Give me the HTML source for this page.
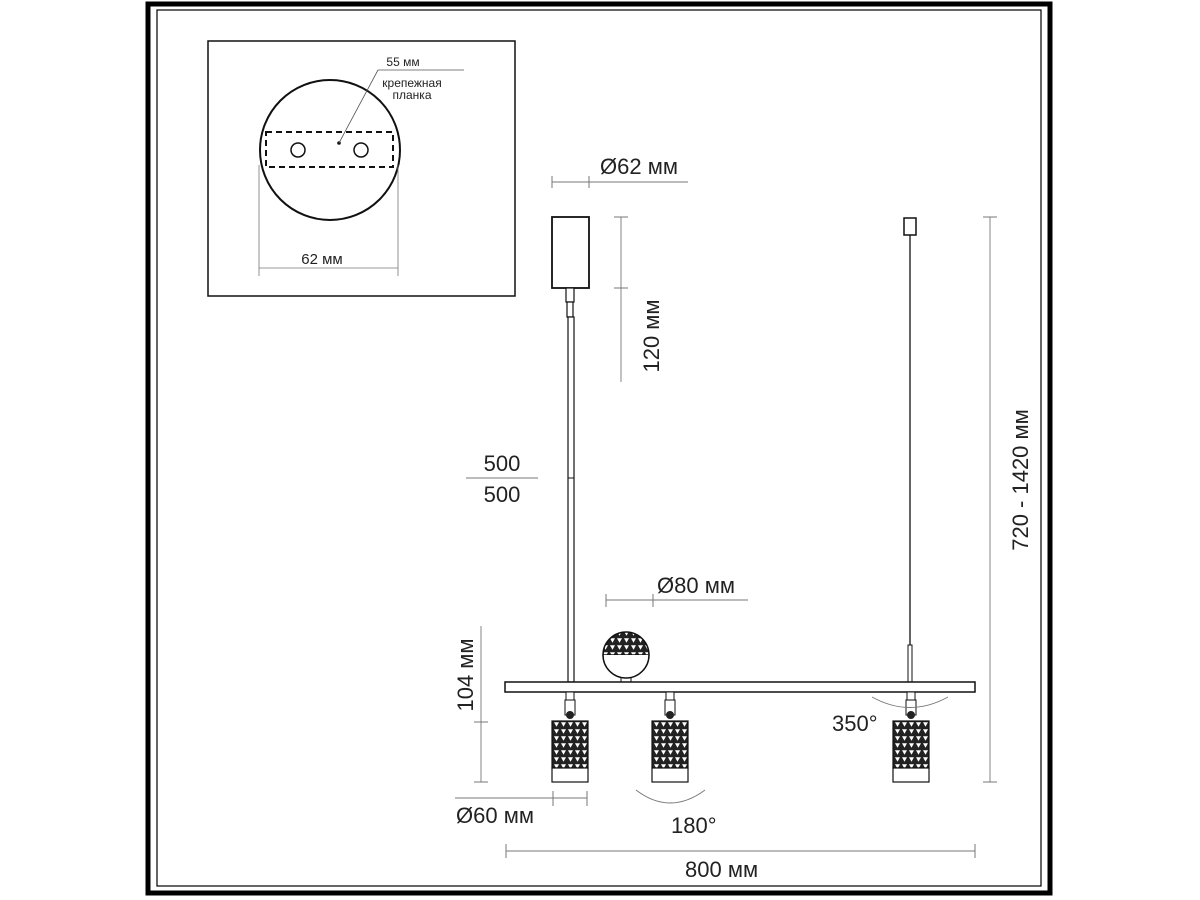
<!DOCTYPE html>
<html><head><meta charset="utf-8"><style>
html,body{margin:0;padding:0;background:#fff}
svg{display:block}
text{font-family:"Liberation Sans","DejaVu Sans",sans-serif;fill:#222}
</style></head><body>
<svg width="1200" height="900" viewBox="0 0 1200 900" xmlns="http://www.w3.org/2000/svg">
<defs>
<pattern id="tri" width="7" height="7" patternUnits="userSpaceOnUse">
<rect width="7" height="7" fill="#222"/>
<polygon points="1,1.2 6,1.2 3.5,5.8" fill="#fff"/>
</pattern>
</defs>
<rect x="148" y="4" width="902" height="889" fill="none" stroke="#000" stroke-width="5"/>
<rect x="157" y="10" width="884" height="876" fill="none" stroke="#000" stroke-width="1.2"/>
<rect x="208" y="41" width="307" height="255" fill="none" stroke="#111" stroke-width="1.5"/>
<circle cx="330" cy="150" r="70" fill="none" stroke="#111" stroke-width="2"/>
<rect x="266" y="132" width="127" height="35" fill="none" stroke="#111" stroke-width="2" stroke-dasharray="6,4"/>
<circle cx="298" cy="150" r="7" fill="none" stroke="#111" stroke-width="1.5"/>
<circle cx="361" cy="150" r="7" fill="none" stroke="#111" stroke-width="1.5"/>
<circle cx="339" cy="143" r="1.8" fill="#111"/>
<line x1="339" y1="143" x2="378" y2="70" stroke="#555" stroke-width="0.8"/>
<line x1="378" y1="70" x2="464" y2="70" stroke="#555" stroke-width="0.8"/>
<text x="403" y="66" font-size="12" text-anchor="middle">55 мм</text>
<text x="412" y="87" font-size="12" text-anchor="middle">крепежная</text>
<text x="412" y="99" font-size="12" text-anchor="middle">планка</text>
<line x1="259" y1="165" x2="259" y2="276" stroke="#777" stroke-width="0.8"/>
<line x1="398" y1="165" x2="398" y2="276" stroke="#777" stroke-width="0.8"/>
<line x1="259" y1="268" x2="398" y2="268" stroke="#777" stroke-width="0.8"/>
<text x="322" y="264" font-size="15" text-anchor="middle">62 мм</text>
<line x1="552" y1="182" x2="688" y2="182" stroke="#777" stroke-width="0.9"/>
<line x1="552" y1="176" x2="552" y2="188" stroke="#777"/>
<line x1="589" y1="176" x2="589" y2="188" stroke="#777"/>
<text x="600" y="174" font-size="22">Ø62 мм</text>
<rect x="552" y="217" width="37" height="71" fill="#fff" stroke="#111" stroke-width="1.8"/>
<rect x="566" y="288" width="8" height="14" fill="#fff" stroke="#111" stroke-width="1.2"/>
<rect x="567" y="302" width="6" height="15" fill="#fff" stroke="#111" stroke-width="1.2"/>
<rect x="568" y="317" width="6" height="365" fill="#fff" stroke="#111" stroke-width="1.2"/>
<line x1="568" y1="478" x2="574" y2="478" stroke="#111"/>
<line x1="621" y1="217" x2="621" y2="382" stroke="#777" stroke-width="0.9"/>
<line x1="614" y1="217" x2="628" y2="217" stroke="#777"/>
<line x1="614" y1="288" x2="628" y2="288" stroke="#777"/>
<text transform="translate(659,336) rotate(-90)" font-size="22" text-anchor="middle">120 мм</text>
<text x="502" y="471" font-size="22" text-anchor="middle">500</text>
<line x1="466" y1="478" x2="538" y2="478" stroke="#777"/>
<text x="502" y="502" font-size="22" text-anchor="middle">500</text>
<rect x="904" y="218" width="12" height="17" fill="#fff" stroke="#111" stroke-width="1.5"/>
<line x1="910" y1="235" x2="910" y2="645" stroke="#111" stroke-width="1.3"/>
<rect x="908" y="645" width="4" height="37" fill="#fff" stroke="#111" stroke-width="1"/>
<line x1="990" y1="217" x2="990" y2="782" stroke="#777" stroke-width="0.9"/>
<line x1="983" y1="217" x2="997" y2="217" stroke="#777"/>
<line x1="983" y1="782" x2="997" y2="782" stroke="#777"/>
<text transform="translate(1028,480) rotate(-90)" font-size="22" text-anchor="middle">720 - 1420 мм</text>
<line x1="606" y1="600" x2="748" y2="600" stroke="#777" stroke-width="0.9"/>
<line x1="606" y1="594" x2="606" y2="607" stroke="#777"/>
<line x1="653" y1="594" x2="653" y2="607" stroke="#777"/>
<text x="657" y="593" font-size="22">Ø80 мм</text>
<rect x="621" y="676" width="10" height="6" fill="#fff" stroke="#111"/>
<path d="M603,655 A23,23 0 0 1 649,655 Z" fill="url(#tri)" stroke="#111" stroke-width="1.5"/>
<path d="M603,655 A23,23 0 0 0 649,655" fill="#fff" stroke="#111" stroke-width="1.5"/>
<rect x="505" y="682" width="470" height="10" fill="#fff" stroke="#111" stroke-width="1.5"/>
<g id="s1">
<rect x="566" y="692" width="8" height="8" fill="#fff" stroke="#111"/>
<rect x="565" y="700" width="10" height="15" fill="#fff" stroke="#111"/>
<circle cx="570" cy="715" r="4" fill="#222"/>
<rect x="552" y="721" width="36" height="47" fill="url(#tri)" stroke="#111" stroke-width="1.2"/>
<rect x="552" y="768" width="36" height="14" fill="#fff" stroke="#111" stroke-width="1.2"/>
</g>
<use href="#s1" transform="translate(100,0)"/>
<use href="#s1" transform="translate(341,0)"/>
<path d="M872,697 Q910,718 948,697" fill="none" stroke="#777" stroke-width="0.9"/>
<text x="832" y="731" font-size="22">350°</text>
<path d="M636,790 Q670,816 705,790" fill="none" stroke="#777" stroke-width="0.9"/>
<text x="671" y="833" font-size="22">180°</text>
<line x1="481" y1="626" x2="481" y2="782" stroke="#777" stroke-width="0.9"/>
<line x1="474" y1="722" x2="488" y2="722" stroke="#777"/>
<line x1="474" y1="782" x2="488" y2="782" stroke="#777"/>
<text transform="translate(473,675) rotate(-90)" font-size="22" text-anchor="middle">104 мм</text>
<line x1="455" y1="798" x2="587" y2="798" stroke="#777" stroke-width="0.9"/>
<line x1="553" y1="791" x2="553" y2="806" stroke="#777"/>
<line x1="587" y1="791" x2="587" y2="806" stroke="#777"/>
<text x="456" y="823" font-size="22">Ø60 мм</text>
<line x1="506" y1="851" x2="975" y2="851" stroke="#777" stroke-width="0.9"/>
<line x1="506" y1="844" x2="506" y2="858" stroke="#777"/>
<line x1="975" y1="844" x2="975" y2="858" stroke="#777"/>
<text x="685" y="877" font-size="22">800 мм</text>
</svg>
</body></html>
